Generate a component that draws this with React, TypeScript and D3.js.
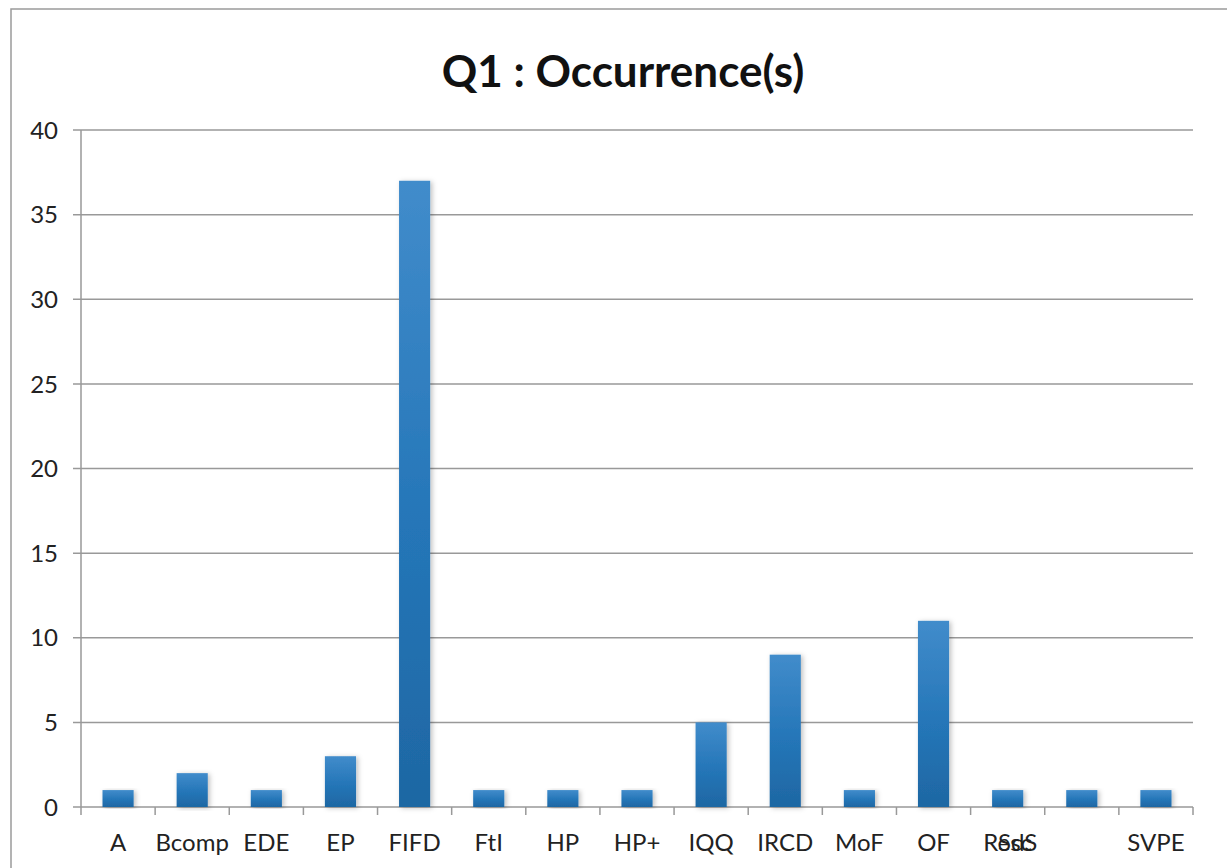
import { useEffect, useRef } from 'react';
import * as d3 from 'd3';

const categories = ['A', 'Bcomp', 'EDE', 'EP', 'FIFD', 'FtI', 'HP', 'HP+', 'IQQ', 'IRCD', 'MoF', 'OF', 'Resc', 'SdS', 'SVPE'];
const values = [1, 2, 1, 3, 37, 1, 1, 1, 5, 9, 1, 11, 1, 1, 1];
const yTicks = [0, 5, 10, 15, 20, 25, 30, 35, 40];
const title = 'Q1 : Occurrence(s)';

export default function App() {
  const ref = useRef<SVGSVGElement | null>(null);

  useEffect(() => {
    if (!ref.current) return;
    const svg = d3.select(ref.current);
    svg.selectAll('*').remove();

    const width = 1227;
    const height = 868;
    const margin = { top: 130, right: 34, bottom: 61, left: 81 };
    const innerWidth = width - margin.left - margin.right;
    const innerHeight = height - margin.top - margin.bottom;
    const font = 'Lato, "Open Sans", sans-serif';

    svg.attr('width', width).attr('height', height);

    const defs = svg.append('defs');
    const grad = defs.append('linearGradient')
      .attr('id', 'barGrad')
      .attr('x1', 0).attr('y1', 0).attr('x2', 0).attr('y2', 1);
    grad.append('stop').attr('offset', '0%').attr('stop-color', '#418ccb');
    grad.append('stop').attr('offset', '55%').attr('stop-color', '#2576b8');
    grad.append('stop').attr('offset', '100%').attr('stop-color', '#1e67a3');

    const shadow = defs.append('filter').attr('id', 'shadow')
      .attr('x', '-30%').attr('y', '-10%').attr('width', '160%').attr('height', '120%');
    shadow.append('feDropShadow')
      .attr('dx', 2).attr('dy', 1).attr('stdDeviation', 2.5)
      .attr('flood-color', '#000').attr('flood-opacity', 0.25);

    // outer frame
    svg.append('rect')
      .attr('x', 11).attr('y', 9)
      .attr('width', 1260).attr('height', 900)
      .attr('fill', 'white').attr('stroke', '#9a9a9a').attr('stroke-width', 1.5);

    svg.append('text')
      .attr('x', 623).attr('y', 87)
      .attr('text-anchor', 'middle')
      .attr('font-family', font)
      .attr('font-weight', 'bold')
      .attr('font-size', 44)
      .attr('fill', '#111')
      .text(title);

    const x = d3.scaleBand<string>()
      .domain(categories)
      .range([0, innerWidth])
      .paddingInner(0.58)
      .paddingOuter(0.29);

    const y = d3.scaleLinear().domain([0, 40]).range([innerHeight, 0]);

    const g = svg.append('g').attr('transform', `translate(${margin.left},${margin.top})`);

    // gridlines
    g.append('g')
      .selectAll('line')
      .data(yTicks)
      .join('line')
      .attr('x1', -8)
      .attr('x2', innerWidth)
      .attr('y1', (d) => y(d))
      .attr('y2', (d) => y(d))
      .attr('stroke', '#999')
      .attr('stroke-width', 1.5);

    g.append('g')
      .selectAll('text')
      .data(yTicks)
      .join('text')
      .attr('x', -23)
      .attr('y', (d) => y(d))
      .attr('dy', '0.36em')
      .attr('text-anchor', 'end')
      .attr('font-family', font)
      .attr('font-size', 24)
      .attr('fill', '#222')
      .text((d) => d);

    // y axis line
    g.append('line')
      .attr('x1', 0).attr('x2', 0)
      .attr('y1', 0).attr('y2', innerHeight)
      .attr('stroke', '#999').attr('stroke-width', 1.5);

    // category ticks
    const step = x.step();
    const boundaries = d3.range(categories.length + 1).map((i) => i * step);
    g.append('g')
      .selectAll('line')
      .data(boundaries)
      .join('line')
      .attr('x1', (d) => d).attr('x2', (d) => d)
      .attr('y1', innerHeight).attr('y2', innerHeight + 8)
      .attr('stroke', '#999').attr('stroke-width', 1.5);

    // bars
    g.append('g')
      .selectAll('rect')
      .data(categories)
      .join('rect')
      .attr('x', (d) => x(d)!)
      .attr('y', (_, i) => y(values[i]))
      .attr('width', x.bandwidth())
      .attr('height', (_, i) => innerHeight - y(values[i]))
      .attr('fill', 'url(#barGrad)')
      .attr('filter', 'url(#shadow)');

    // category labels (SdS overlaps Resc in the original)
    const labelPos = (d: string, i: number) => {
      const c = x(d)! + x.bandwidth() / 2;
      if (d === 'SdS') return x(categories[i - 1])! + x.bandwidth() / 2 + 10;
      return c;
    };
    g.append('g')
      .selectAll('text')
      .data(categories)
      .join('text')
      .attr('x', (d, i) => labelPos(d, i))
      .attr('y', innerHeight + 44)
      .attr('text-anchor', 'middle')
      .attr('font-family', font)
      .attr('font-size', 24)
      .attr('fill', '#222')
      .text((d) => d);
  }, []);

  return (
    <div style={{ position: 'absolute', left: 0, top: 0 }}>
      <svg ref={ref}></svg>
    </div>
  );
}
